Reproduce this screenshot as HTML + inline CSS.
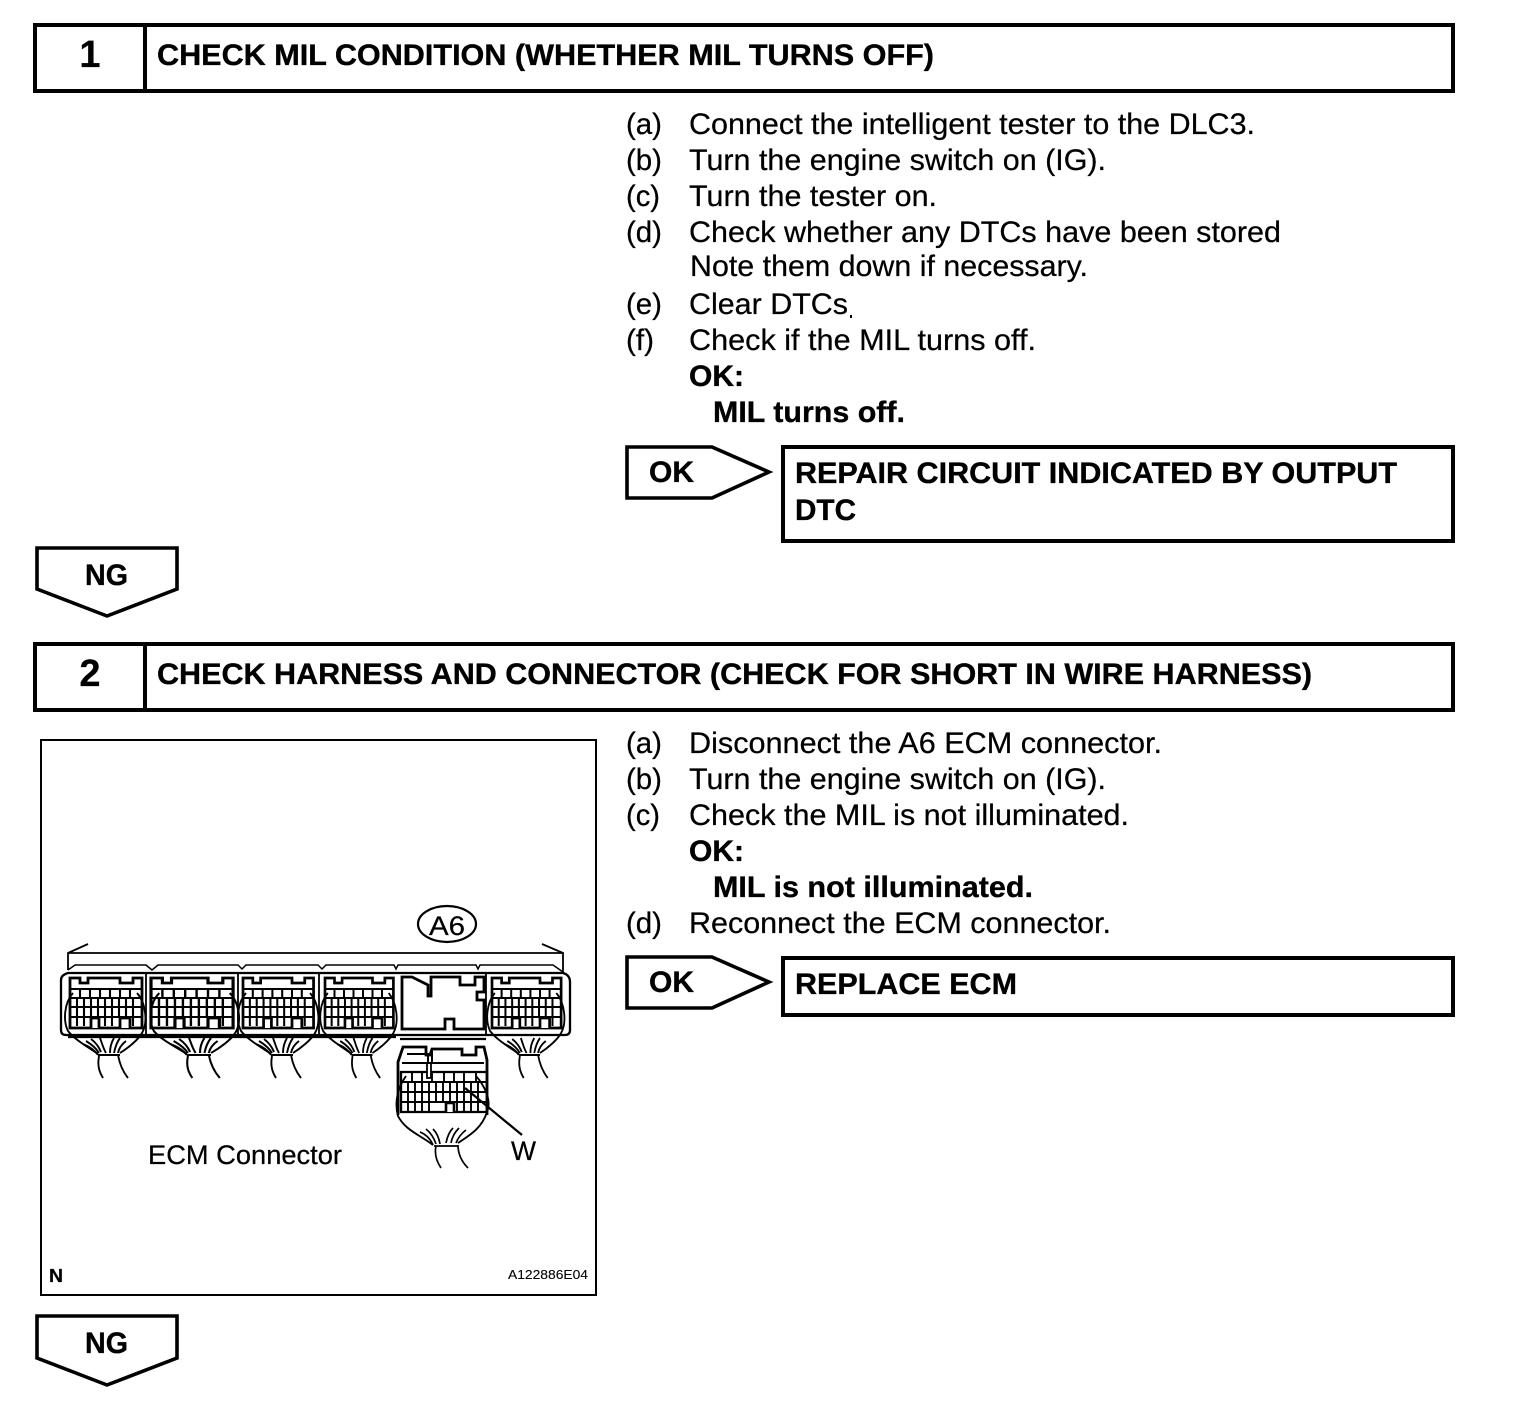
<!DOCTYPE html>
<html><head><meta charset="utf-8"><style>
html,body{margin:0;padding:0;background:#fff}
svg{display:block}
text{font-family:"Liberation Sans",sans-serif;fill:#000;stroke:#000;stroke-width:.25px}
.b{font-size:30px}
.h{font-size:30px;font-weight:bold;stroke-width:.35px}
</style></head><body>
<svg width="1520" height="1408" viewBox="0 0 1520 1408" xmlns="http://www.w3.org/2000/svg">
<defs>
<g id="grid" fill="none" stroke="#000">
<path stroke-width="2.8" d="M0 0H10V5H18V0H50V5H63V0H72V50H0Z"/>
<path stroke-width="2.1" d="M0 11H72M0 20H72M0 29H72M0 39H72M10 11V20M20 11V20M30 11V20M40 11V20M50 11V20M60 11V20M7 20V48M14 20V48M21 20V40M28 20V40M35 20V48M42 20V48M49 20V40M56 20V48M63 20V48"/>
<path stroke-width="2.8" fill="#fff" d="M21 50V40H29V50M50 50V40H60V50"/>
</g>
<g id="har" fill="none" stroke="#000" stroke-width="1.9">
<path d="M3 15C-6 25 -7 43 -2 53C5 62 18 69 28 76M50 75C58 70 68 62 72 55C78 45 76 25 67 15"/>
<path d="M28 77H50M29 78C27 89 30 95 33 100M48 77C50 88 54 95 58 100"/>
<path d="M28 77C24 71 18 68 13 66M29 75C26 70 21 66 16 63M31 74C29 69 25 64 21 61M36 75C33 70 32 65 30 60M40 75C40 70 41 65 44 60M44 75C45 70 47 64 50 60M48 75C49 70 52 66 56 63"/>
</g>
</defs>

<!-- Header 1 -->
<rect x="35" y="25" width="1418" height="66" fill="none" stroke="#000" stroke-width="4"/>
<path d="M145 25V91" stroke="#000" stroke-width="4"/>
<text x="90" y="67" font-size="38" font-weight="bold" text-anchor="middle">1</text>
<text class="h" x="157" y="65" textLength="777" lengthAdjust="spacingAndGlyphs">CHECK MIL CONDITION (WHETHER MIL TURNS OFF)</text>

<!-- Step 1 list -->
<text class="b" x="626" y="134" textLength="36" lengthAdjust="spacingAndGlyphs">(a)</text>
<text class="b" x="689" y="134" textLength="566" lengthAdjust="spacingAndGlyphs">Connect the intelligent tester to the DLC3.</text>
<text class="b" x="626" y="170" textLength="36" lengthAdjust="spacingAndGlyphs">(b)</text>
<text class="b" x="689" y="170" textLength="417" lengthAdjust="spacingAndGlyphs">Turn the engine switch on (IG).</text>
<text class="b" x="626" y="206" textLength="34" lengthAdjust="spacingAndGlyphs">(c)</text>
<text class="b" x="689" y="206" textLength="248" lengthAdjust="spacingAndGlyphs">Turn the tester on.</text>
<text class="b" x="626" y="242" textLength="36" lengthAdjust="spacingAndGlyphs">(d)</text>
<text class="b" x="689" y="242" textLength="592" lengthAdjust="spacingAndGlyphs">Check whether any DTCs have been stored</text>
<text class="b" x="690" y="276" textLength="398" lengthAdjust="spacingAndGlyphs">Note them down if necessary.</text>
<text class="b" x="626" y="314" textLength="36" lengthAdjust="spacingAndGlyphs">(e)</text>
<text class="b" x="689" y="314" textLength="159" lengthAdjust="spacingAndGlyphs">Clear DTCs</text>
<rect x="850" y="315" width="2" height="3"/>
<text class="b" x="626" y="350" textLength="28" lengthAdjust="spacingAndGlyphs">(f)</text>
<text class="b" x="689" y="350" textLength="347" lengthAdjust="spacingAndGlyphs">Check if the MIL turns off.</text>
<text class="h" x="689" y="386" textLength="55" lengthAdjust="spacingAndGlyphs">OK:</text>
<text class="h" x="713" y="422" textLength="192" lengthAdjust="spacingAndGlyphs">MIL turns off.</text>

<!-- OK 1 -->
<path d="M627 447H712L769 472L712 498H627Z" fill="none" stroke="#000" stroke-width="3.6"/>
<text class="h" x="649" y="482" textLength="45" lengthAdjust="spacingAndGlyphs">OK</text>
<rect x="783" y="447" width="670" height="94" fill="none" stroke="#000" stroke-width="4"/>
<text class="h" x="795" y="483" textLength="602" lengthAdjust="spacingAndGlyphs">REPAIR CIRCUIT INDICATED BY OUTPUT</text>
<text class="h" x="795" y="520" textLength="61" lengthAdjust="spacingAndGlyphs">DTC</text>

<!-- NG 1 -->
<path d="M37 548H177V589L107 616L37 589Z" fill="none" stroke="#000" stroke-width="3.6"/>
<text class="h" x="85" y="585" textLength="43" lengthAdjust="spacingAndGlyphs">NG</text>

<!-- Header 2 -->
<rect x="35" y="644" width="1418" height="66" fill="none" stroke="#000" stroke-width="4"/>
<path d="M145 644V710" stroke="#000" stroke-width="4"/>
<text x="90" y="686" font-size="38" font-weight="bold" text-anchor="middle">2</text>
<text class="h" x="157" y="684" textLength="1155" lengthAdjust="spacingAndGlyphs">CHECK HARNESS AND CONNECTOR (CHECK FOR SHORT IN WIRE HARNESS)</text>

<!-- Step 2 list -->
<text class="b" x="626" y="753" textLength="36" lengthAdjust="spacingAndGlyphs">(a)</text>
<text class="b" x="689" y="753" textLength="473" lengthAdjust="spacingAndGlyphs">Disconnect the A6 ECM connector.</text>
<text class="b" x="626" y="789" textLength="36" lengthAdjust="spacingAndGlyphs">(b)</text>
<text class="b" x="689" y="789" textLength="417" lengthAdjust="spacingAndGlyphs">Turn the engine switch on (IG).</text>
<text class="b" x="626" y="825" textLength="34" lengthAdjust="spacingAndGlyphs">(c)</text>
<text class="b" x="689" y="825" textLength="440" lengthAdjust="spacingAndGlyphs">Check the MIL is not illuminated.</text>
<text class="h" x="689" y="861" textLength="55" lengthAdjust="spacingAndGlyphs">OK:</text>
<text class="h" x="713" y="897" textLength="320" lengthAdjust="spacingAndGlyphs">MIL is not illuminated.</text>
<text class="b" x="626" y="933" textLength="36" lengthAdjust="spacingAndGlyphs">(d)</text>
<text class="b" x="689" y="933" textLength="422" lengthAdjust="spacingAndGlyphs">Reconnect the ECM connector.</text>

<!-- OK 2 -->
<path d="M627 957H712L769 982L712 1008H627Z" fill="none" stroke="#000" stroke-width="3.6"/>
<text class="h" x="649" y="992" textLength="45" lengthAdjust="spacingAndGlyphs">OK</text>
<rect x="783" y="958" width="670" height="57" fill="none" stroke="#000" stroke-width="4"/>
<text class="h" x="795" y="994" textLength="222" lengthAdjust="spacingAndGlyphs">REPLACE ECM</text>

<!-- NG 2 -->
<path d="M37 1316H177V1358L107 1385L37 1358Z" fill="none" stroke="#000" stroke-width="3.6"/>
<text class="h" x="85" y="1353" textLength="43" lengthAdjust="spacingAndGlyphs">NG</text>

<!-- Figure -->
<rect x="41" y="740" width="555" height="555" fill="none" stroke="#000" stroke-width="2"/>
<ellipse cx="447" cy="924" rx="29" ry="18" fill="none" stroke="#000" stroke-width="2.2"/>
<text x="429" y="935" font-size="27" textLength="36" lengthAdjust="spacingAndGlyphs">A6</text>

<!-- bracket -->
<path d="M88 944L68 953V970M68 953H563V972M542 944L563 953" fill="none" stroke="#000" stroke-width="1.8"/>
<path d="M68 970L75 965H146L152 970L158 965H238L242 969L246 965H318L322 969L326 965H394L396 969L398 965H476L478 969L480 965H553L563 972" fill="none" stroke="#000" stroke-width="1.5"/>

<!-- body outline -->
<path d="M68 973H563Q570 975 570 982V1030Q570 1035 565 1035H66Q61 1035 61 1030V980Q61 975 68 973Z" fill="none" stroke="#000" stroke-width="2.3"/>
<path d="M68 1037H396M400 1039H486" fill="none" stroke="#000" stroke-width="2.2"/>
<path d="M146 973V1035M238 973V1035M319 973V1035M486 973V1035" fill="none" stroke="#000" stroke-width="1.8"/>

<!-- connectors -->
<use href="#grid" transform="translate(70 978)"/>
<use href="#grid" transform="translate(151 978) scale(1.14 1)"/>
<use href="#grid" transform="translate(243 978) scale(0.98 1)"/>
<use href="#grid" transform="translate(325 978) scale(0.95 1)"/>
<use href="#grid" transform="translate(492 978) scale(0.96 1)"/>
<use href="#har" transform="translate(70 978)"/>
<use href="#har" transform="translate(156 978) scale(1.1 1)"/>
<use href="#har" transform="translate(243 978)"/>
<use href="#har" transform="translate(325 978) scale(0.95 1)"/>
<use href="#har" transform="translate(492 978) scale(0.96 1)"/>

<!-- empty socket A6 -->
<path d="M402 977H412L428 985V996H431V977H460V985H475V977H484V992H477V1000H484V1029H454V1019H445V1029H402Z" fill="#fff" stroke="#000" stroke-width="2.8"/>

<!-- lower connector -->
<path d="M398 1115V1062L403 1047H426V1055H430L432 1049H462V1055H476V1047H484L487 1060V1115" fill="none" stroke="#000" stroke-width="2.8"/>
<path d="M407 1054H428V1063H407M432 1049V1063H462M402 1063H484" fill="none" stroke="#000" stroke-width="2"/>
<path d="M401 1072H487V1112H401Z" fill="none" stroke="#000" stroke-width="2.3"/>
<path d="M401 1082H487M401 1092H487M401 1102H487M412 1072V1082M422 1072V1082M432 1072V1082M444 1072V1082M454 1072V1082M464 1072V1082M476 1072V1082M408 1082V1112M415 1082V1112M422 1082V1112M429 1082V1112M436 1082V1102M443 1082V1102M450 1082V1102M457 1082V1112M464 1082V1112M471 1082V1112M478 1082V1112" fill="none" stroke="#000" stroke-width="1.9"/>
<path d="M427 1064V1078H431V1064" fill="#fff" stroke="#000" stroke-width="1.8"/>
<path d="M446 1112V1103H454V1112" fill="#fff" stroke="#000" stroke-width="2.6"/>
<path d="M406 1076C396 1090 395 1105 398 1116C405 1130 420 1135 433 1145M458 1143C470 1135 482 1128 487 1112C492 1100 484 1085 476 1076" fill="none" stroke="#000" stroke-width="1.9"/>
<path d="M434 1146H458M436 1146C434 1155 437 1162 441 1168M458 1145C458 1155 463 1163 468 1168M433 1145C430 1138 425 1134 420 1132M436 1144C434 1138 431 1133 426 1129M440 1144C439 1138 437 1133 433 1129M446 1143C447 1138 449 1132 453 1128M451 1143C452 1137 455 1132 459 1128M456 1143C458 1138 462 1133 466 1130" fill="none" stroke="#000" stroke-width="1.7"/>

<!-- leader -->
<path d="M465 1088L522 1135" stroke="#000" stroke-width="2.2"/>
<text x="511" y="1160" font-size="27" textLength="25" lengthAdjust="spacingAndGlyphs">W</text>
<text x="148" y="1164" font-size="27" textLength="194" lengthAdjust="spacingAndGlyphs">ECM Connector</text>
<text x="49" y="1282" font-size="18" font-weight="bold" textLength="14" lengthAdjust="spacingAndGlyphs">N</text>
<text x="508" y="1279" font-size="12.5" textLength="80" lengthAdjust="spacingAndGlyphs" style="stroke-width:.1px">A122886E04</text>
</svg>
</body></html>
